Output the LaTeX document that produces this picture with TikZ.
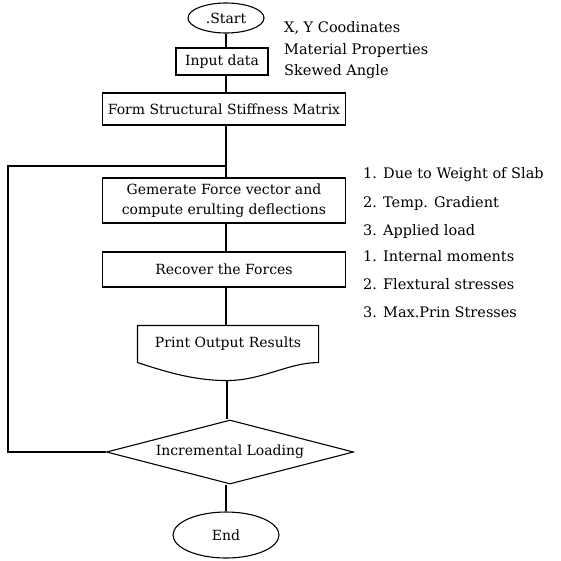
\documentclass[tikz,border=0pt]{standalone}
\usepackage{fontspec}
\setmainfont{DejaVu Serif}
\usetikzlibrary{calc,positioning,shapes.geometric}

\tikzset{
  link/.style={line width=1.1pt},
  flowbox/.style={link,draw,rectangle,minimum width=243pt,inner sep=2pt,align=center,
    font=\fontsize{14}{20}\selectfont},
  terminal/.style={link,draw,ellipse,inner sep=1pt,font=\fontsize{14}{16}\selectfont},
  decision/.style={link,draw,diamond,aspect=3.8,inner sep=0pt,font=\fontsize{14}{16}\selectfont},
  sidenote/.style={anchor=west,inner sep=0pt,font=\fontsize{14.5}{16}\selectfont}
}

\begin{document}
\begin{tikzpicture}[x=1pt,y=-1pt]
  \useasboundingbox (0,0) rectangle (561,560);

  \node (start) [terminal, minimum width=76pt, minimum height=30pt] at (226,18) {.Start};
  \node (input) [flowbox, minimum width=92pt, minimum height=27pt] at (222,61.5) {Input data};
  \node (form) [flowbox, minimum height=32pt] at (224,109) {Form Structural Stiffness Matrix};
  \node (gen) [flowbox, minimum height=45pt] at (224,200.5) {Gemerate Force vector and\\compute erulting deflections};
  \node (recover) [flowbox, minimum height=35pt] at (224,269.5) {Recover the Forces};
  \node (print) [flowbox, draw=none, minimum width=180pt, minimum height=36pt] at (228,344) {Print Output Results};
  \node (decide) [decision, minimum width=247pt, minimum height=64pt] at (230,452) {Incremental Loading};
  \node (finish) [terminal, minimum width=106pt, minimum height=46pt] at (226,535) {End};

  % input remarks
  \node (xy) [sidenote] at (284,28) {X, Y Coodinates};
  \node (mat) [sidenote] at (284,50) {Material Properties};
  \node (skew) [sidenote] at (284,72) {Skewed Angle};

  % load cases and results
  \foreach \txt [count=\i] in {1. Due to Weight of Slab,2. Temp. Gradient,3. Applied load}
    \node (load\i) [sidenote] at (363,{175+28*(\i-1)}) {\txt};
  \foreach \txt [count=\i] in {1. Internal moments,2. Flextural stresses,3. Max.Prin Stresses}
    \node (res\i) [sidenote] at (363,{256+28*(\i-1)}) {\txt};

  % document outline of the print step
  \coordinate (printlow) at ($(print.south)+(-1,18)$);
  \draw[link] (print.south west) -- (print.north west) -- (print.north east) -- (print.south east)
    .. controls +(-30,0) and +(35,0) .. (printlow)
    .. controls +(-35,0) and +(25,8) .. (print.south west);

  \draw[link] (start.south) -- (start.south |- input.north);
  \draw[link] (input.south -| start) -- (start |- form.north);
  \draw[link] (form.south -| start) -- (start |- gen.north);
  \draw[link] (gen.south -| start) -- (start |- recover.north);
  \draw[link] (recover.south -| start) -- (start |- print.north);
  \draw[link] (printlow) -- (printlow |- decide.north);
  \draw[link] (decide.south -| start) -- (finish);

  % loop back for next load increment
  \coordinate (loopcorner) at (8,166);
  \coordinate (loopjoin) at (226,166);
  \draw[link] (decide.west) -| (loopcorner) -- (loopjoin);

\end{tikzpicture}
\end{document}
